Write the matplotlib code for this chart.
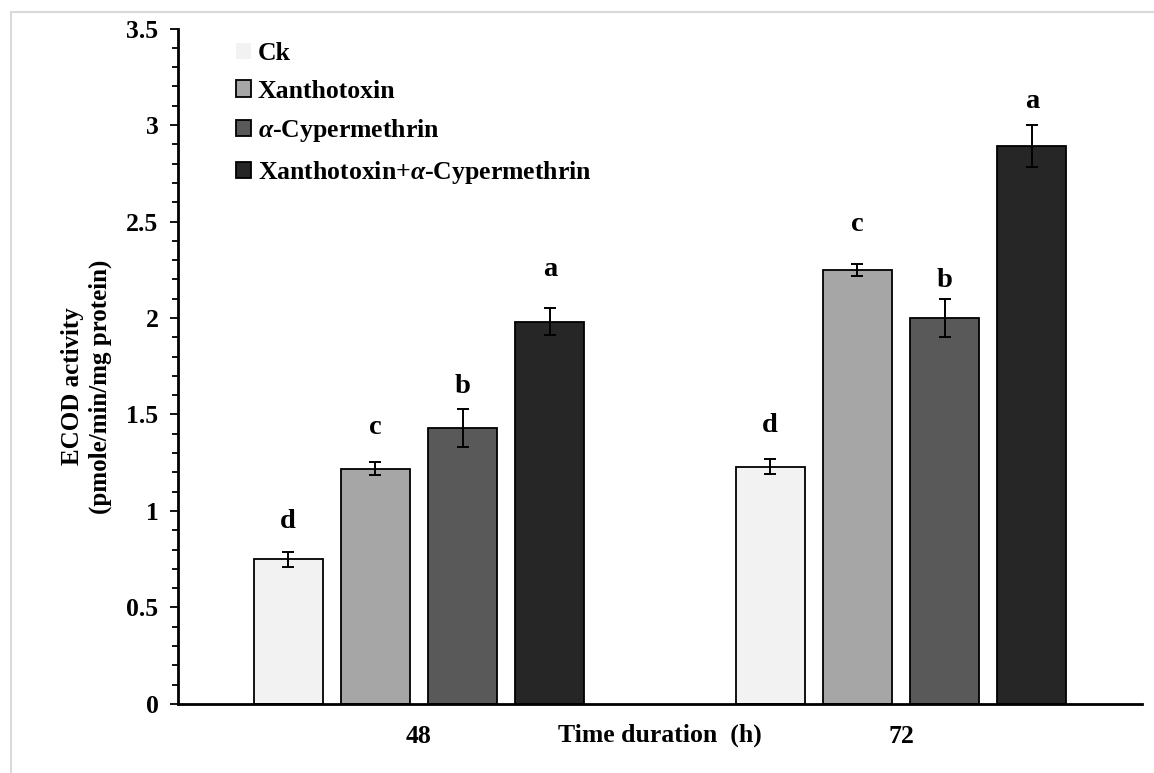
import matplotlib
matplotlib.use('Agg')
import matplotlib.pyplot as plt
from matplotlib.patches import Rectangle, Patch
from matplotlib.ticker import MultipleLocator
import numpy as np

plt.rcParams['font.family'] = ['Liberation Serif', 'DejaVu Serif']
plt.rcParams['font.weight'] = 'bold'
plt.rcParams['mathtext.fontset'] = 'custom'
plt.rcParams['mathtext.rm'] = 'Liberation Serif:bold'
plt.rcParams['mathtext.it'] = 'Liberation Serif:italic:bold'

# data
times = ['48', '72']
treatments = ['Ck', 'Xanthotoxin', r'$\alpha$-Cypermethrin', r'Xanthotoxin+$\alpha$-Cypermethrin']
means = {
    'Ck': [0.75, 1.23],
    'Xanthotoxin': [1.22, 2.25],
    'aCyp': [1.43, 2.00],
    'Xan+aCyp': [1.98, 2.89],
}
errs = {
    'Ck': [0.04, 0.04],
    'Xanthotoxin': [0.035, 0.03],
    'aCyp': [0.10, 0.10],
    'Xan+aCyp': [0.07, 0.11],
}
letters = {
    'Ck': ['d', 'd'],
    'Xanthotoxin': ['c', 'c'],
    'aCyp': ['b', 'b'],
    'Xan+aCyp': ['a', 'a'],
}
# baseline heights of the significance letters
letter_y = {
    'Ck': [0.91, 1.41],
    'Xanthotoxin': [1.40, 2.45],
    'aCyp': [1.61, 2.16],
    'Xan+aCyp': [2.22, 3.09],
}
colors = ['#f2f2f2', '#a6a6a6', '#595959', '#262626']

fig = plt.figure(figsize=(11.54, 7.73), dpi=100)
ax = fig.add_axes([0.1542, 0.0893, 0.8354, 0.8738])

x = np.arange(len(times))
width = 0.143
step = 0.181
keys = list(means.keys())
for i, k in enumerate(keys):
    pos = x + (i - 1.5) * step
    ax.bar(pos, means[k], width, color=colors[i], edgecolor='black', linewidth=1.3, zorder=2)
    ax.errorbar(pos, means[k], yerr=errs[k], fmt='none', ecolor='black',
                elinewidth=1.4, capsize=4.5, capthick=1.4, zorder=3)
    for j in range(len(times)):
        ax.text(pos[j], letter_y[k][j], letters[k][j], ha='center', va='baseline',
                fontsize=20.5, fontweight='bold')

ax.set_xlim(-0.5, 1.5)
ax.set_ylim(0, 3.5)
ax.yaxis.set_major_locator(MultipleLocator(0.5))
ax.yaxis.set_minor_locator(MultipleLocator(0.1))
ax.set_yticks([0, 0.5, 1, 1.5, 2, 2.5, 3, 3.5])
ax.set_yticklabels(['0', '0.5', '1', '1.5', '2', '2.5', '3', '3.5'])
ax.set_xticks(x)
ax.set_xticklabels(times)
ax.tick_params(axis='x', length=0, pad=15, labelsize=18.5)
ax.tick_params(axis='y', which='major', length=6, width=1.3, direction='out', labelsize=18.5, pad=8)
ax.tick_params(axis='y', which='minor', length=4.5, width=1.3, direction='out')
for lab in ax.get_xticklabels() + ax.get_yticklabels():
    lab.set_fontweight('bold')

for s in ['top', 'right']:
    ax.spines[s].set_visible(False)
ax.spines['left'].set_linewidth(2)
ax.spines['bottom'].set_linewidth(2)

ax.text(0.5, -0.046, 'Time duration  (h)', transform=ax.transAxes, ha='center', va='center',
        fontsize=18.5, fontweight='bold')
ax.set_ylabel('ECOD activity\n(pmole/min/mg protein)', fontsize=18, fontweight='bold',
              linespacing=1.25)
ax.yaxis.set_label_coords(-0.068, 0.47)

handles = []
for i, t in enumerate(treatments):
    ec = 'none' if i == 0 else 'black'
    handles.append(Patch(facecolor=colors[i], edgecolor=ec, linewidth=1.3))
leg = ax.legend(handles, treatments, loc='upper left', bbox_to_anchor=(0.06, 0.98),
                frameon=False, fontsize=18.5, handlelength=0.6, handleheight=0.6,
                handletextpad=0.25, labelspacing=0.57, borderpad=0, borderaxespad=0)
for txt in leg.get_texts():
    txt.set_fontweight('bold')

fig.add_artist(Rectangle((11 / 1154, -0.1), 1.2, 1.1 - 12 / 773, transform=fig.transFigure,
                         fill=False, edgecolor='#d9d9d9', linewidth=1.5))

fig.savefig('out.png', dpi=100)
